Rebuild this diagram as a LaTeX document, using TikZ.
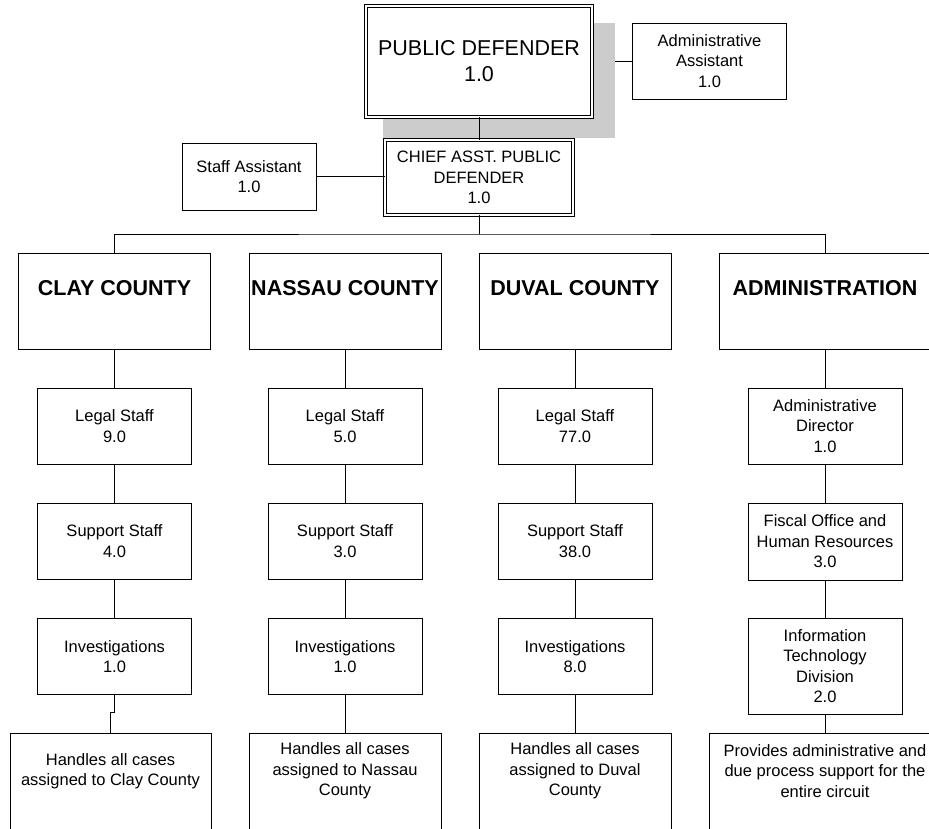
\documentclass[tikz,border=0pt]{standalone}
\usepackage{fontspec}
\setmainfont{Liberation Sans}
\usetikzlibrary{calc,backgrounds}
\begin{document}
\begin{tikzpicture}[x=1pt,y=-1pt,
  every node/.style={inner sep=0pt, outer sep=0pt},
  unit/.style={draw, line width=0.9pt, fill=white, align=center,
    font=\fontsize{16.5}{20.5}\selectfont, minimum width=154, minimum height=76},
  lead/.style={unit, double, double distance=2.3pt},
  head/.style={draw, line width=0.9pt, fill=white, minimum width=192, minimum height=96},
  headtext/.style={font=\fontsize{21.5}{24}\selectfont\bfseries},
  note/.style={draw, line width=0.9pt, fill=white, minimum width=192, minimum height=130},
  notetext/.style={align=center, font=\fontsize{16.5}{20.5}\selectfont},
  link/.style={line width=0.9pt},
  shade/.style={fill=black!20}
]
\useasboundingbox (0,0) rectangle (929,828);
\clip (0,0) rectangle (929,828);

% top of the circuit
\node[lead, minimum width=226, minimum height=111, font=\fontsize{21.5}{26}\selectfont]
  (pd) at (479,61.5) {PUBLIC DEFENDER\\1.0};
\node[unit] (adminasst) at (709.5,61) {Administrative\\Assistant\\1.0};
\node[lead, minimum width=188, minimum height=75] (chief) at (479,177.5)
  {CHIEF ASST. PUBLIC\\DEFENDER\\1.0};
\node[unit, minimum width=134, minimum height=67] (staffasst) at (249,176.5)
  {Staff Assistant\\1.0};

\begin{scope}[on background layer]
  \draw[link] (adminasst.west -| pd.east) -- (adminasst.west);
  \fill[shade] (383,23) rectangle (615,138);
\end{scope}
\draw[link] (pd.south) -- (chief.north);
\draw[link] (staffasst.east) -- (staffasst.east -| chief.west);

% divisions
\node[head] (clay) at (114.5,301) {};
\node[headtext] (claytitle) at (114.5,288) {CLAY COUNTY};
\node[head] (nassau) at (345,301) {};
\node[headtext] (nassautitle) at (345,288) {NASSAU COUNTY};
\node[head] (duval) at (575,301) {};
\node[headtext] (duvaltitle) at (575,288) {DUVAL COUNTY};
\node[head, minimum width=212] (admin) at (825,301) {};
\node[headtext] (admintitle) at (825,288) {ADMINISTRATION};

\coordinate (bus) at (479,234);
\draw[link] (chief.south) -- (bus);
\draw[link] (clay.north) |- (bus) -| (admin.north);

% Clay County
\node[unit] (clayleg) at (114.5,426) {Legal Staff\\9.0};
\node[unit] (claysup) at (114.5,541) {Support Staff\\4.0};
\node[unit] (clayinv) at (114.5,656.5) {Investigations\\1.0};
\node[note, minimum width=201] (claynote) at (110.5,798) {};
\node[notetext] (claynotetext) at (110.5,771) {Handles all cases\\assigned to Clay County};

% Nassau County
\node[unit] (nassauleg) at (345,426) {Legal Staff\\5.0};
\node[unit] (nassausup) at (345,541) {Support Staff\\3.0};
\node[unit] (nassauinv) at (345,656.5) {Investigations\\1.0};
\node[note] (nassaunote) at (345,798) {};
\node[notetext] (nassaunotetext) at (345,771) {Handles all cases\\assigned to Nassau\\County};

% Duval County
\node[unit] (duvalleg) at (575,426) {Legal Staff\\77.0};
\node[unit] (duvalsup) at (575,541) {Support Staff\\38.0};
\node[unit] (duvalinv) at (575,656.5) {Investigations\\8.0};
\node[note] (duvalnote) at (575,798) {};
\node[notetext] (duvalnotetext) at (575,771) {Handles all cases\\assigned to Duval\\County};

% Administration
\node[unit] (admdir) at (825,426) {Administrative\\Director\\1.0};
\node[unit, minimum height=77] (admfisc) at (825,541.5) {Fiscal Office and\\Human Resources\\3.0};
\node[unit, minimum height=96] (admit) at (825,666) {Information\\Technology\\Division\\2.0};
\node[note, minimum width=232] (admnote) at (825,798) {};
\node[notetext] (admnotetext) at (825,771)
  {Provides administrative and\\due process support for the\\entire circuit};

% column links
\draw[link] (clay.south) -- (clayleg.north);
\draw[link] (clayleg.south) -- (claysup.north);
\draw[link] (claysup.south) -- (clayinv.north);
\draw[link] (clayinv.south) -- ++(0,18) -| (claynote.north);

\draw[link] (nassau.south) -- (nassauleg.north);
\draw[link] (nassauleg.south) -- (nassausup.north);
\draw[link] (nassausup.south) -- (nassauinv.north);
\draw[link] (nassauinv.south) -- (nassaunote.north);

\draw[link] (duval.south) -- (duvalleg.north);
\draw[link] (duvalleg.south) -- (duvalsup.north);
\draw[link] (duvalsup.south) -- (duvalinv.north);
\draw[link] (duvalinv.south) -- (duvalnote.north);

\draw[link] (admin.south) -- (admdir.north);
\draw[link] (admdir.south) -- (admfisc.north);
\draw[link] (admfisc.south) -- (admit.north);
\draw[link] (admit.south) -- (admnote.north);
\end{tikzpicture}
\end{document}
